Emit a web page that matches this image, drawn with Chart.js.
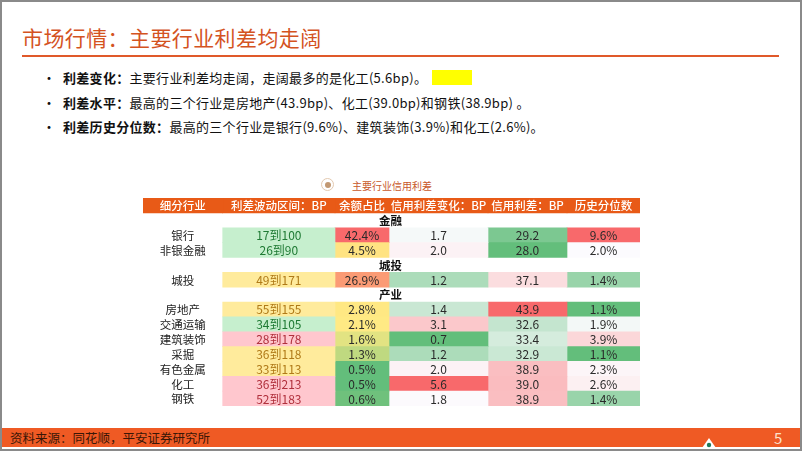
<!DOCTYPE html>
<html>
<head>
<meta charset="utf-8">
<script src="https://cdn.jsdelivr.net/npm/chart.js@4/dist/chart.umd.min.js"></script>
<style>
  html, body { margin: 0; padding: 0; }
  body {
    width: 802px; height: 451px; position: relative; overflow: hidden;
    background: #fff; font-family: "Noto Sans CJK SC", "Noto Sans", sans-serif;
  }
  .frame { position: absolute; left: 0; top: 0; width: 802px; height: 451px; box-sizing: border-box; border: 2px solid #8a8a8a; }
  .title { position: absolute; left: 22px; top: 22px; font-size: 21px; color: #d4531f; letter-spacing: 0.4px; white-space: nowrap; }
  .rule { position: absolute; left: 22px; top: 55px; width: 757px; height: 2px; background: #e0592a; }
  .bullets { position: absolute; left: 42px; top: 67px; font-size: 13px; color: #111; letter-spacing: 0.3px; }
  .bullets div { height: 24.5px; line-height: 20px; white-space: nowrap; }
  .bullets .dot { display: inline-block; width: 21px; font-size: 14px; }
  .bullets b { font-weight: bold; }
  .hl { display: inline-block; width: 40px; height: 15px; background: #ffff00; vertical-align: -2px; margin-left: 5px; }
  .cap { position: absolute; left: 352px; top: 178px; font-size: 10px; color: #c8582a; white-space: nowrap; }
  .ring { position: absolute; left: 321px; top: 178px; width: 11px; height: 11px; border-radius: 50%; border: 1.5px solid #e3c9b0; }
  .ring i { position: absolute; left: 2.5px; top: 2.5px; width: 6px; height: 6px; border-radius: 50%; background: #c29872; }
  #box { position: absolute; left: 143px; top: 198px; width: 497px; height: 208px; }
  .foot { position: absolute; left: 2px; top: 428px; width: 798px; height: 19px; background: #ef5a24; }
  .foot span { position: absolute; left: 8px; top: 0px; font-size: 12.5px; color: #3a1606; white-space: nowrap; }
  .foot em { position: absolute; left: 772px; top: -1px; font-style: normal; font-size: 15px; color: #fde2cc; }
  .logo { position: absolute; left: 702px; top: 438px; }
</style>
</head>
<body>
<div class="frame"></div>
<div class="title">市场行情：主要行业利差均走阔</div>
<div class="rule"></div>
<div class="bullets">
  <div><span class="dot">•</span><b>利差变化：</b>主要行业利差均走阔，走阔最多的是化工(5.6bp)。<span class="hl"></span></div>
  <div><span class="dot">•</span><b>利差水平：</b>最高的三个行业是房地产(43.9bp)、化工(39.0bp)和钢铁(38.9bp) 。</div>
  <div><span class="dot">•</span><b>利差历史分位数：</b>最高的三个行业是银行(9.6%)、建筑装饰(3.9%)和化工(2.6%)。</div>
</div>
<div class="ring"><i></i></div>
<div class="cap">主要行业信用利差</div>
<div id="box"><canvas id="tbl"></canvas></div>
<div class="foot"><span>资料来源：同花顺，平安证券研究所</span><em>5</em></div>
<svg class="logo" width="14" height="10"><path d="M7 0 L14 10 L0 10 Z" fill="#fff"/><circle cx="7" cy="7" r="2.2" fill="#1f7a5a"/></svg>

<script>
// table content
const headers = ["细分行业", "利差波动区间：BP", "余额占比", "信用利差变化：BP", "信用利差：BP", "历史分位数"];
const groups = ["金融", "城投", "产业"];
const industries = ["银行", "非银金融", "城投", "房地产", "交通运输", "建筑装饰", "采掘", "有色金属", "化工", "钢铁"];
const industryGroup = [0, 0, 1, 2, 2, 2, 2, 2, 2, 2];
const rangeLow = [17, 26, 49, 55, 34, 28, 36, 33, 36, 52];
const rangeHigh = [100, 90, 171, 155, 105, 178, 118, 113, 213, 183];
const balanceShare = [42.4, 4.5, 26.9, 2.8, 2.1, 1.6, 1.3, 0.5, 0.5, 0.6];
const spreadChange = [1.7, 2.0, 1.2, 1.4, 3.1, 0.7, 1.2, 2.0, 5.6, 1.8];
const creditSpread = [29.2, 28.0, 37.1, 43.9, 32.6, 33.4, 32.9, 38.9, 39.0, 38.9];
const percentile = [9.6, 2.0, 1.4, 1.1, 1.9, 3.9, 1.1, 2.3, 2.6, 1.4];

// layout
const colWidths = [79.7, 112.3, 54, 99, 79, 73];
const HEAD = "#e85a17";
const FONT = '"Noto Sans CJK SC", "Noto Sans", sans-serif';

// rows: header, then group label rows in between the industries
const rows = [{ kind: "header" }];
industries.forEach((name, i) => {
  if (i === 0 || industryGroup[i] !== industryGroup[i - 1]) rows.push({ kind: "group", g: industryGroup[i] });
  rows.push({ kind: "item", i: i });
});

// excel-like 3 colour scale (min / 50th percentile / max)
function hex(h) { return [parseInt(h.slice(1, 3), 16), parseInt(h.slice(3, 5), 16), parseInt(h.slice(5, 7), 16)]; }
function mix(a, b, t) {
  t = Math.max(0, Math.min(1, t));
  const c = a.map((v, k) => Math.round(v + (b[k] - v) * t));
  return "rgb(" + c.join(",") + ")";
}
function scale3(arr, lo, mid, hi) {
  const s = arr.slice().sort((a, b) => a - b);
  const n = s.length;
  const med = n % 2 ? s[(n - 1) / 2] : (s[n / 2 - 1] + s[n / 2]) / 2;
  const min = s[0], max = s[n - 1];
  return v => v <= med ? mix(hex(lo), hex(mid), (v - min) / (med - min)) : mix(hex(mid), hex(hi), (v - med) / (max - med));
}
const GREEN = "#63be7b", WHITE = "#fcfcff", RED = "#f8696b", YELLOW = "#ffeb84";
const shareColor = scale3(balanceShare, GREEN, YELLOW, RED);
const changeColor = scale3(spreadChange, GREEN, WHITE, RED);
const spreadColor = scale3(creditSpread, GREEN, WHITE, RED);
const pctColor = scale3(percentile, GREEN, WHITE, RED);

// good / neutral / bad style by the top of the range
function rangeStyle(h) {
  if (h < 110) return { fill: "#c6efce", text: "#1f7a34" };
  if (h < 175) return { fill: "#ffeb9c", text: "#b07a18" };
  return { fill: "#ffc7ce", text: "#b0303c" };
}

function cell(c, r) {
  const row = rows[r];
  if (row.kind === "header") return { fill: HEAD, text: headers[c], color: "#fff" };
  if (row.kind === "group") return { fill: "rgba(0,0,0,0)", text: "", color: "#000" };
  const i = row.i;
  const dark = "#2a2a2a";
  switch (c) {
    case 0: return { fill: "rgba(0,0,0,0)", text: industries[i], color: "#222" };
    case 1: { const st = rangeStyle(rangeHigh[i]); return { fill: st.fill, text: rangeLow[i] + "到" + rangeHigh[i], color: st.text }; }
    case 2: return { fill: shareColor(balanceShare[i]), text: balanceShare[i].toFixed(1) + "%", color: dark };
    case 3: return { fill: changeColor(spreadChange[i]), text: spreadChange[i].toFixed(1), color: dark };
    case 4: return { fill: spreadColor(creditSpread[i]), text: creditSpread[i].toFixed(1), color: dark };
    default: return { fill: pctColor(percentile[i]), text: percentile[i].toFixed(1) + "%", color: dark };
  }
}

const labels = rows.map(r => r.kind === "item" ? industries[r.i] : r.kind === "group" ? groups[r.g] : "header");
const datasets = colWidths.map((w, c) => ({
  label: headers[c],
  data: rows.map(() => w),
  backgroundColor: rows.map((r, k) => cell(c, k).fill),
  borderWidth: 0,
  barPercentage: 1,
  categoryPercentage: 1
}));

const cellText = {
  id: "cellText",
  afterDatasetsDraw(chart) {
    const ctx = chart.ctx;
    ctx.save();
    ctx.textAlign = "center";
    ctx.textBaseline = "middle";
    rows.forEach((row, r) => {
      if (row.kind === "group") {
        const bar = chart.getDatasetMeta(0).data[r];
        ctx.font = "bold 11.5px " + FONT;
        ctx.fillStyle = "#111";
        ctx.fillText(groups[row.g], (chart.chartArea.left + chart.chartArea.right) / 2 - 1, bar.y + 0.5);
        return;
      }
      colWidths.forEach((w, c) => {
        const bar = chart.getDatasetMeta(c).data[r];
        const info = cell(c, r);
        if (row.kind === "header") ctx.font = "500 11.5px " + FONT;
        else if (c === 0) ctx.font = "11.5px " + FONT;
        else ctx.font = "12px " + FONT;
        ctx.fillStyle = info.color;
        ctx.fillText(info.text, (bar.x + bar.base) / 2, bar.y + 0.5);
      });
    });
    ctx.restore();
  }
};

new Chart(document.getElementById("tbl"), {
  type: "bar",
  data: { labels: labels, datasets: datasets },
  options: {
    indexAxis: "y",
    responsive: true,
    maintainAspectRatio: false,
    animation: false,
    layout: { padding: 0 },
    plugins: { legend: { display: false }, tooltip: { enabled: false } },
    scales: {
      x: { type: "linear", stacked: true, display: false, min: 0, max: colWidths.reduce((a, b) => a + b, 0) },
      y: { type: "category", stacked: true, display: false }
    }
  },
  plugins: [cellText]
});
</script>
</body>
</html>
